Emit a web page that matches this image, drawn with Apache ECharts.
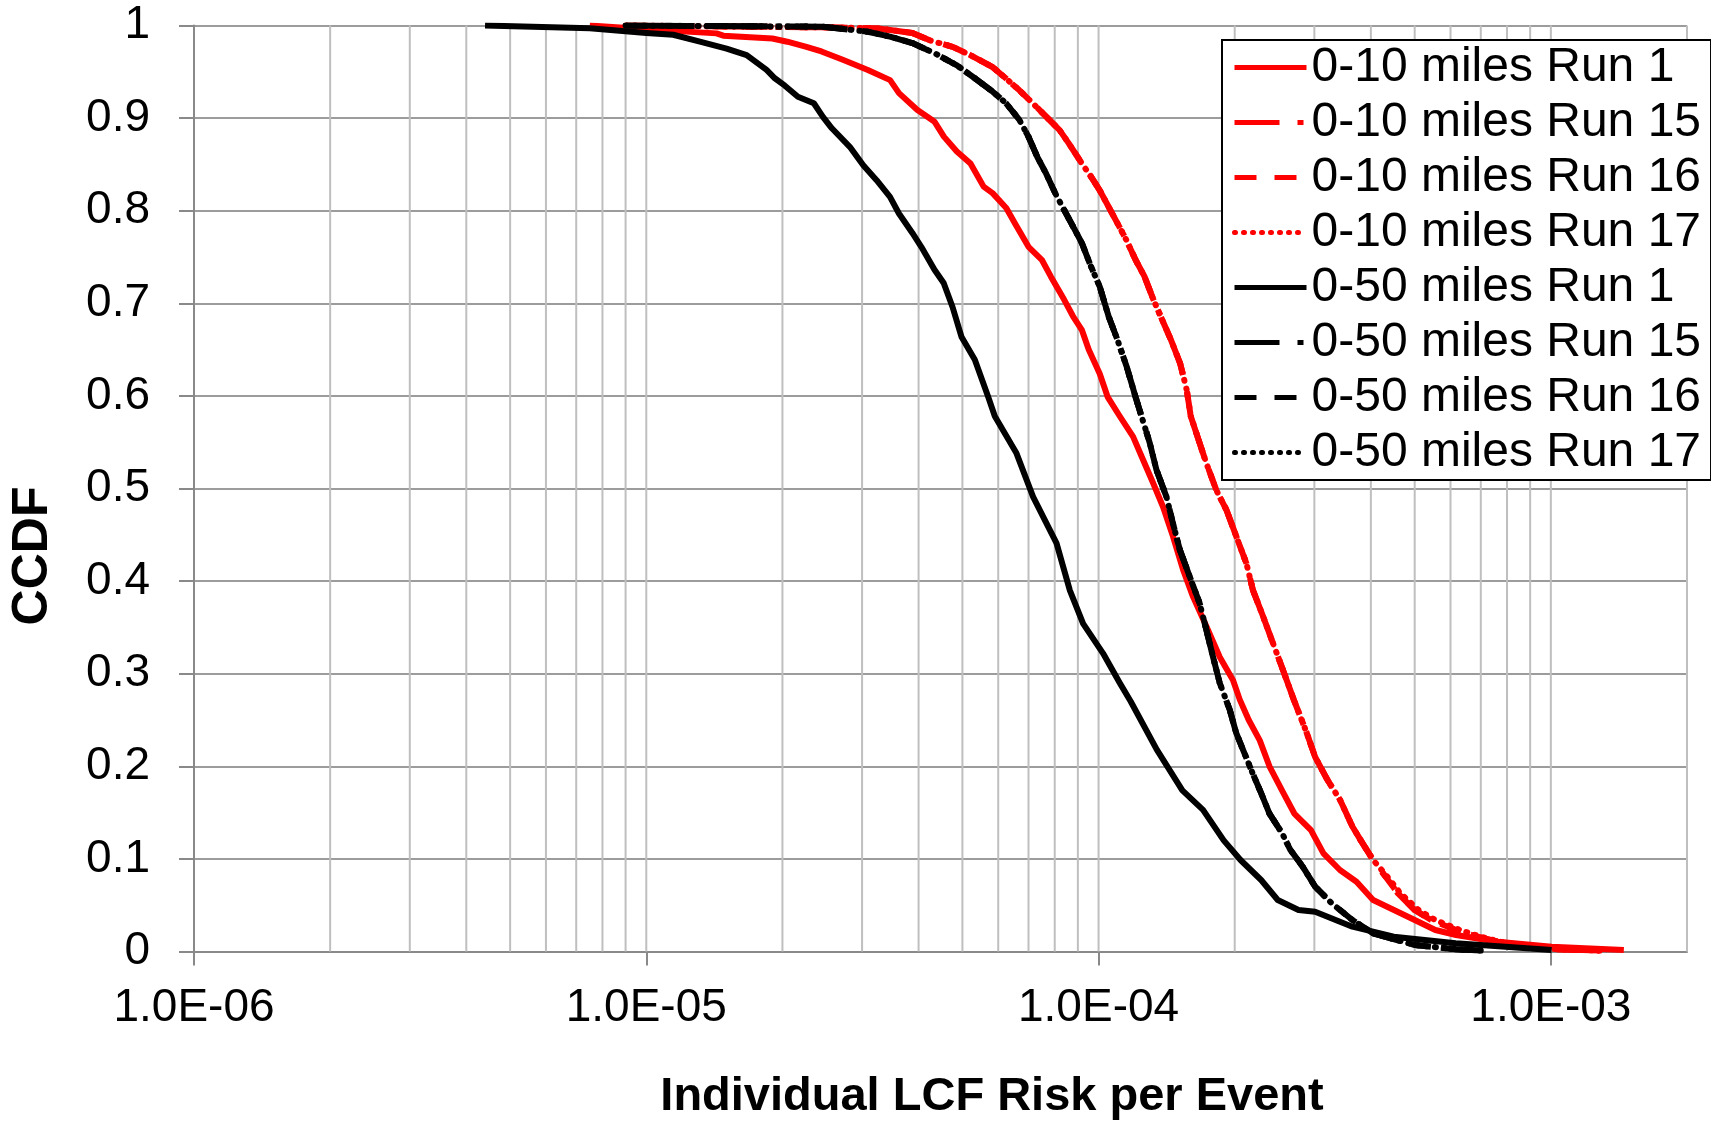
<!DOCTYPE html>
<html>
<head>
<meta charset="utf-8">
<script src="https://cdn.jsdelivr.net/npm/echarts@6/dist/echarts.min.js"></script>
<style>
html,body{margin:0;padding:0;background:#fff;}
#chart{width:1711px;height:1124px;}
</style>
</head>
<body>
<div id="chart"></div>
<script>
// ---- data: [Individual LCF risk per event, CCDF] ----
const R10_RUN1 = [[7.5e-6,1.0],[1.00e-5,0.996],[1.43e-5,0.9915],[1.48e-5,0.989],[1.90e-5,0.986],[2.05e-5,0.9825],[2.26e-5,0.977],[2.44e-5,0.972],[2.72e-5,0.963],[3.09e-5,0.952],[3.46e-5,0.941],[3.62e-5,0.927],[3.97e-5,0.909],[4.34e-5,0.896],[4.55e-5,0.880],[4.86e-5,0.864],[5.21e-5,0.851],[5.57e-5,0.826],[5.83e-5,0.819],[6.25e-5,0.803],[6.54e-5,0.786],[7.00e-5,0.761],[7.49e-5,0.747],[7.84e-5,0.729],[8.39e-5,0.704],[8.78e-5,0.686],[9.19e-5,0.671],[9.51e-5,0.650],[1.006e-4,0.624],[1.047e-4,0.599],[1.114e-4,0.578],[1.192e-4,0.556],[1.254e-4,0.531],[1.320e-4,0.506],[1.389e-4,0.480],[1.461e-4,0.448],[1.538e-4,0.412],[1.618e-4,0.383],[1.732e-4,0.351],[1.853e-4,0.318],[1.983e-4,0.293],[2.052e-4,0.272],[2.148e-4,0.250],[2.272e-4,0.228],[2.387e-4,0.200],[2.544e-4,0.174],[2.709e-4,0.149],[2.948e-4,0.131],[3.142e-4,0.106],[3.417e-4,0.088],[3.718e-4,0.0754],[4.046e-4,0.0556],[4.498e-4,0.0448],[5.0e-4,0.034],[5.554e-4,0.0232],[6.172e-4,0.0178],[7.625e-4,0.0106],[1.004e-3,0.0052],[1.45e-3,0.0016]];

const R10_RUN15 = [[9e-6,1.0],[2.458e-5,0.998],[3.23e-5,0.997],[3.875e-5,0.992],[4.236e-5,0.984],[4.755e-5,0.977],[5.206e-5,0.968],[5.834e-5,0.955],[6.236e-5,0.943],[6.683e-5,0.930],[7.155e-5,0.916],[7.659e-5,0.9015],[8.201e-5,0.887],[8.585e-5,0.873],[9.186e-5,0.851],[9.616e-5,0.837],[1.006e-4,0.822],[1.053e-4,0.804],[1.102e-4,0.786],[1.153e-4,0.768],[1.207e-4,0.747],[1.263e-4,0.729],[1.322e-4,0.704],[1.383e-4,0.682],[1.447e-4,0.660],[1.515e-4,0.635],[1.567e-4,0.606],[1.599e-4,0.578],[1.673e-4,0.549],[1.732e-4,0.527],[1.822e-4,0.498],[1.917e-4,0.477],[2.017e-4,0.448],[2.123e-4,0.419],[2.195e-4,0.390],[2.31e-4,0.362],[2.43e-4,0.333],[2.557e-4,0.304],[2.701e-4,0.272],[2.886e-4,0.236],[3.012e-4,0.210],[3.209e-4,0.185],[3.417e-4,0.164],[3.641e-4,0.135],[3.799e-4,0.120],[4.046e-4,0.0988],[4.311e-4,0.0808],[4.592e-4,0.0628],[5.0e-4,0.0448],[5.437e-4,0.034],[6.172e-4,0.0232],[6.862e-4,0.016],[7.625e-4,0.0106],[9.024e-4,0.0052],[1.004e-3,0.0027],[1.282e-3,0.001]];
const R10_RUN16 = [[9e-6,1.0],[2.458e-5,0.998],[3.23e-5,0.997],[3.875e-5,0.992],[4.236e-5,0.984],[4.755e-5,0.977],[5.206e-5,0.968],[5.834e-5,0.955],[6.236e-5,0.943],[6.683e-5,0.930],[7.155e-5,0.916],[7.659e-5,0.9015],[8.201e-5,0.887],[8.585e-5,0.873],[9.186e-5,0.851],[9.616e-5,0.837],[1.006e-4,0.822],[1.053e-4,0.804],[1.102e-4,0.786],[1.153e-4,0.768],[1.207e-4,0.747],[1.263e-4,0.729],[1.322e-4,0.704],[1.383e-4,0.682],[1.447e-4,0.660],[1.515e-4,0.635],[1.567e-4,0.606],[1.599e-4,0.578],[1.673e-4,0.549],[1.732e-4,0.527],[1.822e-4,0.498],[1.917e-4,0.477],[2.017e-4,0.448],[2.123e-4,0.419],[2.195e-4,0.390],[2.31e-4,0.362],[2.43e-4,0.333],[2.557e-4,0.304],[2.701e-4,0.272],[2.886e-4,0.236],[3.012e-4,0.210],[3.209e-4,0.185],[3.417e-4,0.164],[3.641e-4,0.135],[3.799e-4,0.120],[4.046e-4,0.0988],[4.311e-4,0.0808],[4.592e-4,0.0628],[5.0e-4,0.0448],[5.437e-4,0.034],[6.172e-4,0.0232],[6.862e-4,0.016],[7.625e-4,0.0106],[9.024e-4,0.0052],[1.004e-3,0.0027],[1.282e-3,0.001]];
const R10_RUN17 = [[9e-6,1.0],[2.458e-5,0.998],[3.23e-5,0.997],[3.875e-5,0.992],[4.236e-5,0.984],[4.755e-5,0.977],[5.206e-5,0.968],[5.834e-5,0.955],[6.236e-5,0.943],[6.683e-5,0.930],[7.155e-5,0.916],[7.659e-5,0.9015],[8.201e-5,0.887],[8.585e-5,0.873],[9.186e-5,0.851],[9.616e-5,0.837],[1.006e-4,0.822],[1.053e-4,0.804],[1.102e-4,0.786],[1.153e-4,0.768],[1.207e-4,0.747],[1.263e-4,0.729],[1.322e-4,0.704],[1.383e-4,0.682],[1.447e-4,0.660],[1.515e-4,0.635],[1.567e-4,0.606],[1.599e-4,0.578],[1.673e-4,0.549],[1.732e-4,0.527],[1.822e-4,0.498],[1.917e-4,0.477],[2.017e-4,0.448],[2.123e-4,0.419],[2.195e-4,0.390],[2.31e-4,0.362],[2.43e-4,0.333],[2.557e-4,0.304],[2.701e-4,0.272],[2.886e-4,0.236],[3.012e-4,0.210],[3.209e-4,0.185],[3.417e-4,0.164],[3.641e-4,0.135],[3.799e-4,0.120],[4.046e-4,0.0988],[4.35e-4,0.0808],[4.65e-4,0.0628],[5.1e-4,0.0448],[5.55e-4,0.034],[6.3e-4,0.0232],[7.0e-4,0.016],[7.7e-4,0.0106],[9.024e-4,0.0052],[1.004e-3,0.0027],[1.282e-3,0.001]];

const B50_RUN1 = [[4.4e-6,1.0],[7.5e-6,0.997],[1.0e-5,0.992],[1.147e-5,0.990],[1.314e-5,0.9825],[1.505e-5,0.975],[1.667e-5,0.968],[1.845e-5,0.952],[1.924e-5,0.943],[2.025e-5,0.935],[2.164e-5,0.923],[2.347e-5,0.916],[2.46e-5,0.901],[2.572e-5,0.889],[2.818e-5,0.869],[3.018e-5,0.849],[3.23e-5,0.833],[3.458e-5,0.815],[3.619e-5,0.797],[3.875e-5,0.776],[4.055e-5,0.761],[4.341e-5,0.736],[4.545e-5,0.722],[4.755e-5,0.696],[4.975e-5,0.664],[5.326e-5,0.639],[5.70e-5,0.599],[5.897e-5,0.578],[6.585e-5,0.538],[7.166e-5,0.491],[8.072e-5,0.441],[8.64e-5,0.390],[9.243e-5,0.354],[1.023e-4,0.322],[1.114e-4,0.290],[1.178e-4,0.270],[1.345e-4,0.218],[1.532e-4,0.174],[1.702e-4,0.153],[1.891e-4,0.120],[2.06e-4,0.0988],[2.288e-4,0.0772],[2.49e-4,0.0556],[2.768e-4,0.0448],[3.012e-4,0.043],[3.641e-4,0.0268],[4.494e-4,0.016],[6.16e-4,0.0089],[1.004e-3,0.0016]];

const B50_RUN15 = [[9e-6,1.0],[2.46e-5,0.9987],[3.088e-5,0.9933],[3.458e-5,0.988],[3.875e-5,0.981],[4.341e-5,0.970],[4.863e-5,0.957],[5.326e-5,0.943],[5.834e-5,0.9285],[6.245e-5,0.916],[6.683e-5,0.898],[6.997e-5,0.880],[7.321e-5,0.858],[7.659e-5,0.840],[8.018e-5,0.819],[8.388e-5,0.801],[8.779e-5,0.783],[9.186e-5,0.765],[9.616e-5,0.740],[1.006e-4,0.718],[1.053e-4,0.6855],[1.102e-4,0.660],[1.153e-4,0.632],[1.207e-4,0.599],[1.298e-4,0.549],[1.343e-4,0.520],[1.413e-4,0.491],[1.461e-4,0.462],[1.512e-4,0.434],[1.59e-4,0.405],[1.673e-4,0.376],[1.732e-4,0.347],[1.791e-4,0.318],[1.853e-4,0.290],[1.95e-4,0.261],[2.015e-4,0.236],[2.102e-4,0.214],[2.193e-4,0.192],[2.288e-4,0.171],[2.387e-4,0.149],[2.544e-4,0.128],[2.653e-4,0.110],[2.827e-4,0.0916],[3.012e-4,0.070],[3.278e-4,0.052],[3.641e-4,0.034],[4.046e-4,0.0197],[5.0e-4,0.007],[6.172e-4,0.0024],[7.0e-4,0.001]];
const B50_RUN16 = [[9e-6,1.0],[2.46e-5,0.9987],[3.088e-5,0.9933],[3.458e-5,0.988],[3.875e-5,0.981],[4.341e-5,0.970],[4.863e-5,0.957],[5.326e-5,0.943],[5.834e-5,0.9285],[6.245e-5,0.916],[6.683e-5,0.898],[6.997e-5,0.880],[7.321e-5,0.858],[7.659e-5,0.840],[8.018e-5,0.819],[8.388e-5,0.801],[8.779e-5,0.783],[9.186e-5,0.765],[9.616e-5,0.740],[1.006e-4,0.718],[1.053e-4,0.6855],[1.102e-4,0.660],[1.153e-4,0.632],[1.207e-4,0.599],[1.298e-4,0.549],[1.343e-4,0.520],[1.413e-4,0.491],[1.461e-4,0.462],[1.512e-4,0.434],[1.59e-4,0.405],[1.673e-4,0.376],[1.732e-4,0.347],[1.791e-4,0.318],[1.853e-4,0.290],[1.95e-4,0.261],[2.015e-4,0.236],[2.102e-4,0.214],[2.193e-4,0.192],[2.288e-4,0.171],[2.387e-4,0.149],[2.544e-4,0.128],[2.653e-4,0.110],[2.827e-4,0.0916],[3.012e-4,0.070],[3.278e-4,0.052],[3.641e-4,0.034],[4.046e-4,0.0197],[5.0e-4,0.007],[6.172e-4,0.0024],[7.0e-4,0.001]];
const B50_RUN17 = [[9e-6,1.0],[2.46e-5,0.9987],[3.088e-5,0.9933],[3.458e-5,0.988],[3.875e-5,0.981],[4.341e-5,0.970],[4.863e-5,0.957],[5.326e-5,0.943],[5.834e-5,0.9285],[6.245e-5,0.916],[6.683e-5,0.898],[6.997e-5,0.880],[7.321e-5,0.858],[7.659e-5,0.840],[8.018e-5,0.819],[8.388e-5,0.801],[8.779e-5,0.783],[9.186e-5,0.765],[9.616e-5,0.740],[1.006e-4,0.718],[1.053e-4,0.6855],[1.102e-4,0.660],[1.153e-4,0.632],[1.207e-4,0.599],[1.298e-4,0.549],[1.343e-4,0.520],[1.413e-4,0.491],[1.461e-4,0.462],[1.512e-4,0.434],[1.59e-4,0.405],[1.673e-4,0.376],[1.732e-4,0.347],[1.791e-4,0.318],[1.853e-4,0.290],[1.95e-4,0.261],[2.015e-4,0.236],[2.102e-4,0.214],[2.193e-4,0.192],[2.288e-4,0.171],[2.387e-4,0.149],[2.544e-4,0.128],[2.653e-4,0.110],[2.827e-4,0.0916],[3.012e-4,0.070],[3.278e-4,0.052],[3.641e-4,0.034],[4.046e-4,0.0197],[5.0e-4,0.007],[6.172e-4,0.0024],[7.0e-4,0.001]];

const SERIES_NAMES = ['0-10 miles Run 1','0-10 miles Run 15','0-10 miles Run 16','0-10 miles Run 17','0-50 miles Run 1','0-50 miles Run 15','0-50 miles Run 16','0-50 miles Run 17'];
const SERIES_DATA = [R10_RUN1, R10_RUN15, R10_RUN16, R10_RUN17, B50_RUN1, B50_RUN15, B50_RUN16, B50_RUN17];

// axis ticks
const X_MIN = 1e-6, X_MAX = 2e-3;
const X_LABEL_TICKS = [1e-6, 1e-5, 1e-4, 1e-3];
const X_GRID_VALUES = [2e-6,3e-6,4e-6,5e-6,6e-6,7e-6,8e-6,9e-6,1e-5,2e-5,3e-5,4e-5,5e-5,6e-5,7e-5,8e-5,9e-5,1e-4,2e-4,3e-4,4e-4,5e-4,6e-4,7e-4,8e-4,9e-4,1e-3,2e-3];
const Y_MIN = 0, Y_MAX = 1, Y_STEP = 0.1;

// ---- styling ----
const FONT = "'Liberation Sans', Arial, Helvetica, sans-serif";
const RED = '#ff0000', BLACK = '#000000';
const STYLES = [
  {color: RED, type: 'solid'},
  {color: RED, type: [45, 18, 6, 18]},
  {color: RED, type: [22, 18]},
  {color: RED, type: [1, 8], cap: 'round'},
  {color: BLACK, type: 'solid'},
  {color: BLACK, type: [45, 18, 6, 18]},
  {color: BLACK, type: [22, 18]},
  {color: BLACK, type: [1, 8], cap: 'round'}
];

function fmtSci(v) {
  const e = Math.round(Math.log10(v));
  if (Math.abs(Math.log10(v) - e) > 1e-6) return '';
  const m = v / Math.pow(10, e);
  const sign = e < 0 ? '-' : '+';
  return m.toFixed(1) + 'E' + sign + String(Math.abs(e)).padStart(2, '0');
}

// vertical gridlines, one two-point line per grid value, drawn through the axes
const series = X_GRID_VALUES.map((v, i) => ({
  name: '_vgrid' + i,
  type: 'line',
  data: [[v, Y_MIN], [v, Y_MAX]],
  showSymbol: false,
  symbol: 'none',
  silent: true,
  z: 1,
  lineStyle: {color: '#bfbfbf', width: 2, type: 'solid'},
  emphasis: {disabled: true},
  tooltip: {show: false}
}));

SERIES_NAMES.forEach((name, i) => series.push({
  name: name,
  type: 'line',
  data: SERIES_DATA[i],
  showSymbol: false,
  symbol: 'none',
  z: 3,
  lineStyle: Object.assign({width: 6, cap: STYLES[i].cap || 'butt', join: 'round'}, STYLES[i]),
  itemStyle: {color: STYLES[i].color},
  emphasis: {disabled: true}
}));

const chart = echarts.init(document.getElementById('chart'), null, {renderer: 'canvas'});
chart.setOption({
  animation: false,
  backgroundColor: '#ffffff',
  grid: {left: 194, right: 24, top: 25.5, bottom: 172.5, containLabel: false},
  xAxis: {
    type: 'log',
    logBase: 10,
    min: X_MIN,
    max: X_MAX,
    axisLine: {show: true, onZero: false, lineStyle: {color: '#898989', width: 2}},
    axisTick: {show: true, length: 14, customValues: X_LABEL_TICKS, lineStyle: {color: '#898989', width: 2}},
    axisLabel: {show: true, customValues: X_LABEL_TICKS, margin: 34, fontSize: 46, fontFamily: FONT, color: '#000', formatter: fmtSci},
    splitLine: {show: false},
    minorTick: {show: false},
    minorSplitLine: {show: false}
  },
  yAxis: {
    type: 'value',
    min: Y_MIN,
    max: Y_MAX,
    interval: Y_STEP,
    axisLine: {show: true, lineStyle: {color: '#898989', width: 2}},
    axisTick: {show: true, length: 15, lineStyle: {color: '#898989', width: 2}},
    axisLabel: {margin: 44, fontSize: 46, fontFamily: FONT, color: '#000',
      formatter: v => String(Math.round(v * 10) / 10)},
    splitLine: {show: true, lineStyle: {color: '#9c9c9c', width: 2}}
  },
  legend: {
    data: SERIES_NAMES,
    orient: 'vertical',
    left: 1222,
    top: 40,
    itemWidth: 72,
    itemHeight: 14,
    itemGap: 0,
    padding: [0, 10, 0, 10],
    backgroundColor: '#ffffff',
    borderColor: '#000000',
    borderWidth: 2,
    selectedMode: false,
    itemStyle: {color: 'rgba(0,0,0,0)', borderColor: 'rgba(0,0,0,0)', borderWidth: 0, opacity: 0},
    lineStyle: {width: 5},
    textStyle: {fontSize: 48, fontFamily: FONT, color: '#000', lineHeight: 55}
  },
  graphic: [
    {type: 'text', x: 33, y: 556, rotation: Math.PI / 2, silent: true,
      style: {text: 'CCDF', font: "bold 50px 'Liberation Sans', Arial, sans-serif", fill: '#000', align: 'center', verticalAlign: 'middle'}},
    {type: 'text', x: 992, y: 1097, silent: true,
      style: {text: 'Individual LCF Risk per Event', font: "bold 47px 'Liberation Sans', Arial, sans-serif", fill: '#000', align: 'center', verticalAlign: 'middle'}}
  ],
  series: series
});
</script>
</body>
</html>
